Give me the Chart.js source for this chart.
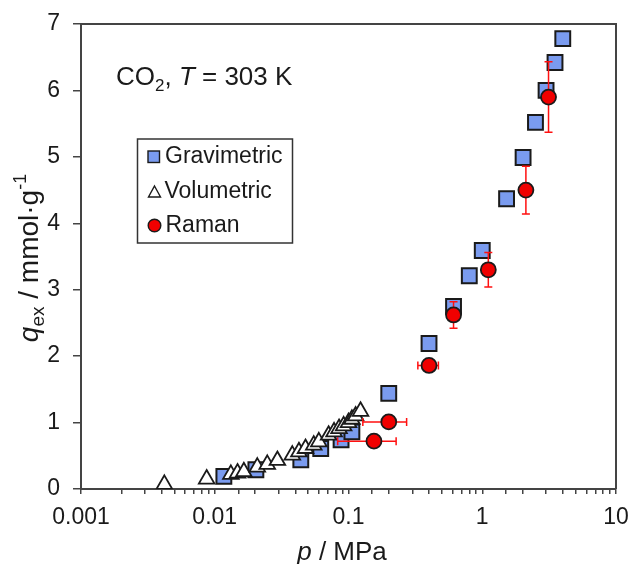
<!DOCTYPE html>
<html>
<head>
<meta charset="utf-8">
<script src="https://cdn.jsdelivr.net/npm/chart.js@4.4.1/dist/chart.umd.min.js"></script>
<style>
  html, body { margin: 0; padding: 0; background: #fff; }
</style>
</head>
<body>
<canvas id="isotherm" width="629" height="564"></canvas>
<script>
// CO2 excess adsorption at 303 K, pressure in MPa, uptake in mmol/g
const gravP = [0.0117, 0.0203, 0.044, 0.062, 0.088, 0.106, 0.2, 0.4, 0.61, 0.8, 1.0, 1.52, 2.02, 2.5, 3.0, 3.5, 4.0];
const gravQ = [0.19, 0.29, 0.44, 0.61, 0.74, 0.86, 1.44, 2.19, 2.75, 3.21, 3.59, 4.37, 4.99, 5.52, 6.0, 6.42, 6.78];

const voluP = [0.0042, 0.0087, 0.0132, 0.0148, 0.0165, 0.0208, 0.0247, 0.0294, 0.038, 0.0426, 0.0477,
  0.055, 0.06, 0.071, 0.078, 0.085, 0.092, 0.1, 0.106, 0.113, 0.123];
const voluQ = [0.07, 0.15, 0.22, 0.24, 0.26, 0.33, 0.37, 0.43, 0.51, 0.56, 0.61,
  0.66, 0.71, 0.81, 0.86, 0.91, 0.95, 1.0, 1.05, 1.10, 1.17];

const ramanP = [0.155, 0.2, 0.4, 0.61, 1.11, 2.12, 3.13];
const ramanQ = [0.72, 1.01, 1.86, 2.62, 3.30, 4.50, 5.90];
const ramanPErr = [0.072, 0.072, 0.07, 0, 0, 0, 0];
const ramanQErr = [0, 0, 0.05, 0.2, 0.26, 0.36, 0.53];

const xTickLabels = ["0.001", "0.01", "0.1", "1", "10"];
const yTickLabels = ["0", "1", "2", "3", "4", "5", "6", "7"];

const FONT = "'Liberation Sans', Arial, sans-serif";
const AXIS = "#444";
const INK = "#1a1a1a";

const toPoints = (xs, ys) => xs.map((x, i) => ({ x, y: ys[i] }));

// mixed-font text (italics, sub/superscripts), centred on cx, baseline cy
function drawRich(ctx, parts, cx, cy) {
  let total = 0;
  parts.forEach(p => { ctx.font = p.font; p.w = ctx.measureText(p.text).width; total += p.w; });
  let x = cx - total / 2;
  parts.forEach(p => {
    ctx.font = p.font;
    ctx.fillText(p.text, x, cy + (p.dy || 0));
    x += p.w;
  });
}

// Raman error bars, drawn just before the Raman markers
const errorBars = {
  id: "errorBars",
  beforeDatasetDraw(chart, args) {
    if (args.meta.label !== "Raman") return;
    const { ctx, scales: { x, y } } = chart;
    const cap = 4;
    ctx.save();
    ctx.strokeStyle = "#ff1010";
    ctx.lineWidth = 1.5;
    ramanP.forEach((p, i) => {
      const px = x.getPixelForValue(p), py = y.getPixelForValue(ramanQ[i]);
      if (ramanPErr[i]) {
        const x0 = x.getPixelForValue(p - ramanPErr[i]), x1 = x.getPixelForValue(p + ramanPErr[i]);
        ctx.beginPath();
        ctx.moveTo(x0, py); ctx.lineTo(x1, py);
        ctx.moveTo(x0, py - cap); ctx.lineTo(x0, py + cap);
        ctx.moveTo(x1, py - cap); ctx.lineTo(x1, py + cap);
        ctx.stroke();
      }
      if (ramanQErr[i]) {
        const y0 = y.getPixelForValue(ramanQ[i] - ramanQErr[i]), y1 = y.getPixelForValue(ramanQ[i] + ramanQErr[i]);
        ctx.beginPath();
        ctx.moveTo(px, y0); ctx.lineTo(px, y1);
        ctx.moveTo(px - cap, y0); ctx.lineTo(px + cap, y0);
        ctx.moveTo(px - cap, y1); ctx.lineTo(px + cap, y1);
        ctx.stroke();
      }
    });
    ctx.restore();
  }
};

// frame, axis titles, annotation and boxed legend
const decorations = {
  id: "decorations",
  afterDraw(chart) {
    const { ctx, chartArea: a } = chart;
    ctx.save();

    // top and right edges of the frame
    ctx.strokeStyle = AXIS;
    ctx.lineWidth = 2;
    ctx.beginPath();
    ctx.moveTo(a.left, a.top);
    ctx.lineTo(a.right, a.top);
    ctx.lineTo(a.right, a.bottom);
    ctx.stroke();

    ctx.fillStyle = INK;
    ctx.textBaseline = "alphabetic";

    // x title
    drawRich(ctx, [
      { text: "p", font: `italic 26px ${FONT}` },
      { text: " / MPa", font: `26px ${FONT}` }
    ], 342, 560);

    // y title
    ctx.save();
    ctx.translate(38, 258);
    ctx.rotate(-Math.PI / 2);
    drawRich(ctx, [
      { text: "q", font: `italic 28px ${FONT}` },
      { text: "ex", font: `19px ${FONT}`, dy: 6 },
      { text: " / mmol\u00b7g", font: `28px ${FONT}` },
      { text: "-1", font: `18px ${FONT}`, dy: -12 }
    ], 0, 0);
    ctx.restore();

    // annotation
    ctx.textAlign = "left";
    let tx = 116;
    const seg = (text, font, dy) => {
      ctx.font = font;
      ctx.fillText(text, tx, 85 + (dy || 0));
      tx += ctx.measureText(text).width;
    };
    seg("CO", `26px ${FONT}`);
    seg("2", `17px ${FONT}`, 6);
    seg(", ", `26px ${FONT}`);
    seg("T", `italic 26px ${FONT}`);
    seg(" = 303 K", `26px ${FONT}`);

    // legend box
    ctx.strokeStyle = "#333";
    ctx.lineWidth = 1.5;
    ctx.strokeRect(137.5, 139, 155, 104);

    ctx.font = `23px ${FONT}`;
    ctx.textBaseline = "middle";
    ctx.fillStyle = INK;
    ctx.fillText("Gravimetric", 165, 157);
    ctx.fillText("Volumetric", 164.5, 192);
    ctx.fillText("Raman", 165.5, 225.5);

    ctx.lineWidth = 1.4;
    ctx.strokeStyle = INK;
    ctx.fillStyle = "#7a9bef";
    ctx.fillRect(148, 151, 11.5, 11.5);
    ctx.strokeRect(148, 151, 11.5, 11.5);

    ctx.fillStyle = "#fff";
    ctx.beginPath();
    ctx.moveTo(154.5, 186);
    ctx.lineTo(160.5, 197);
    ctx.lineTo(148.5, 197);
    ctx.closePath();
    ctx.fill();
    ctx.stroke();

    ctx.fillStyle = "#f00000";
    ctx.beginPath();
    ctx.arc(154.5, 225.5, 6.3, 0, Math.PI * 2);
    ctx.fill();
    ctx.stroke();

    ctx.restore();
  }
};

new Chart(document.getElementById("isotherm"), {
  type: "scatter",
  data: {
    datasets: [
      {
        label: "Gravimetric",
        data: toPoints(gravP, gravQ),
        order: 2,
        pointStyle: "rect",
        pointRadius: 10.5,
        backgroundColor: "#7a9bef",
        borderColor: INK,
        borderWidth: 2
      },
      {
        label: "Volumetric",
        data: toPoints(voluP, voluQ),
        order: 1,
        pointStyle: "triangle",
        pointRadius: 9,
        backgroundColor: "#ffffff",
        borderColor: INK,
        borderWidth: 1.8
      },
      {
        label: "Raman",
        data: toPoints(ramanP, ramanQ),
        order: 0,
        pointStyle: "circle",
        pointRadius: 7.5,
        backgroundColor: "#f00000",
        borderColor: INK,
        borderWidth: 1.8
      }
    ]
  },
  options: {
    responsive: false,
    devicePixelRatio: 1,
    animation: false,
    layout: { padding: { top: 24, right: 13, left: 0, bottom: 0 } },
    plugins: {
      legend: { display: false },
      tooltip: { enabled: false }
    },
    scales: {
      x: {
        type: "logarithmic",
        min: 0.001,
        max: 10,
        afterFit: s => { s.height = 75; s.paddingLeft = 0; s.paddingRight = 0; },
        border: { display: true, color: AXIS, width: 2 },
        grid: { drawOnChartArea: false, drawTicks: true, tickLength: 5, color: AXIS, lineWidth: 1.5 },
        ticks: {
          autoSkip: false,
          maxRotation: 0,
          padding: 10,
          color: INK,
          font: { family: FONT, size: 23 },
          callback: v => {
            const l = Math.log10(v);
            return Math.abs(l - Math.round(l)) < 1e-6 ? xTickLabels[Math.round(l) + 3] : "";
          }
        }
      },
      y: {
        min: 0,
        max: 7,
        afterFit: s => { s.width = 81; s.paddingTop = 0; s.paddingBottom = 0; },
        border: { display: true, color: AXIS, width: 2 },
        grid: { drawOnChartArea: false, drawTicks: true, tickLength: 8, color: AXIS, lineWidth: 1.5 },
        ticks: {
          stepSize: 1,
          padding: 13,
          color: INK,
          font: { family: FONT, size: 23 },
          callback: v => yTickLabels[v]
        }
      }
    }
  },
  plugins: [errorBars, decorations]
});
</script>
</body>
</html>
